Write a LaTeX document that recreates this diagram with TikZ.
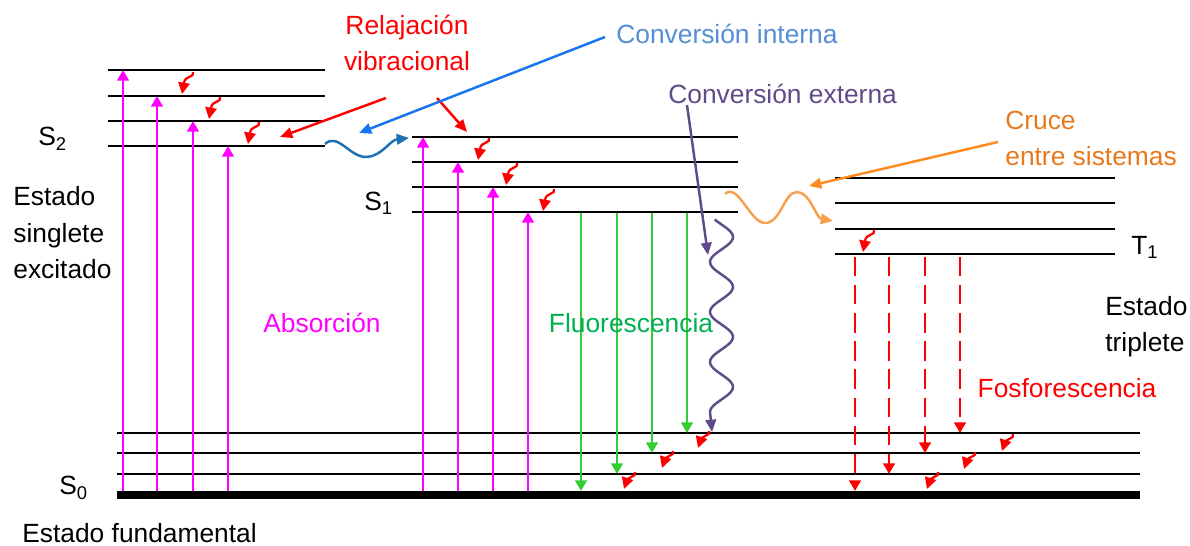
\documentclass[tikz,border=0pt]{standalone}
\usepackage{fontspec}
\setmainfont{Liberation Sans}
\usetikzlibrary{arrows.meta,calc}
\definecolor{absorb}{HTML}{FF00FF}
\definecolor{fluo}{HTML}{33CC33}
\definecolor{fluotext}{HTML}{00B050}
\definecolor{icblue}{HTML}{558ED5}
\definecolor{icarrow}{HTML}{1A73F0}
\definecolor{icwave}{HTML}{1F6FB5}
\definecolor{ecpurple}{HTML}{5E4B87}
\definecolor{iscarrow}{HTML}{FF8A1E}
\definecolor{iscwave}{HTML}{F9A050}
\definecolor{isctext}{HTML}{E8781C}
\tikzset{
  level/.style={line width=1.2pt},
  ground/.style={line width=4pt},
  absarrow/.style={absorb,line width=1.6pt,-{Triangle[length=6pt,width=6.5pt]}},
  fluoarrow/.style={fluo,line width=1.6pt,-{Triangle[length=6pt,width=6.5pt]}},
  phosarrow/.style={red,line width=1.6pt,dash pattern=on 11pt off 5pt,-{Triangle[length=6pt,width=6.5pt]}},
  vibarrow/.style={red,line width=1.3pt,-{Triangle[length=6.5pt,width=6.5pt]}},
  lblarrow/.style={line width=1.4pt,-{Triangle[length=7pt,width=6pt]}},
  lbl/.style={font=\fontsize{15}{21}\selectfont,inner sep=0pt},
}
% small wavy relaxation arrow, tip at (#2,#3)
\newcommand{\vib}[3][22]{%
  \draw[vibarrow,shift={(#2,#3)}] (11,-#1) .. controls (13,-#1+6) and (3,-#1+3) .. (2,-#1+11) -- (0,0);}

\begin{document}
\begin{tikzpicture}[x=0.02cm,y=-0.02cm]
\useasboundingbox (0,0) rectangle (1190,546);
% levels
\foreach \y in {70,96,121,146} \draw[level] (108,\y) -- (325,\y);
\foreach \y in {137,162,187,212} \draw[level] (412,\y) -- (738,\y);
\foreach \y in {178,203,229,254} \draw[level] (835,\y) -- (1115,\y);
\foreach \y in {433,453,474} \draw[level] (117,\y) -- (1140,\y);
\draw[ground] (117,495) -- (1140,495);

% absorption, fluorescence, phosphorescence
\foreach \x/\y in {123/70,157/96,193/121,228/146,423/137,458/162,493/187,528/212}
  \draw[absarrow] (\x,491) -- (\x,\y);
\foreach \x/\y in {581/491,617/474,652/453,687/433}
  \draw[fluoarrow] (\x,213) -- (\x,\y);
\foreach \x/\y in {855/491,889/474,925/453,960/433}
  \draw[phosarrow] (\x,257) -- (\x,\y);

% vibrational relaxation
\vib{182}{94} \vib{209}{119} \vib{248}{144}
\vib{478}{160} \vib{506}{185} \vib{543}{211}
\vib{863}{252}
\vib[17]{698}{448} \vib[17]{662}{468} \vib[17]{624}{489}
\vib[17]{1002}{451} \vib[17]{964}{469} \vib[17]{927}{489}

% labels
\node[lbl,anchor=base west] (s2) at (38,146) {S\textsubscript{2}};
\node[lbl,anchor=base west] (s1) at (364,211) {S\textsubscript{1}};
\node[lbl,anchor=base west] (t1) at (1131,255) {T\textsubscript{1}};
\node[lbl,anchor=base west] (s0) at (59,495) {S\textsubscript{0}};
\node[lbl,anchor=base west,align=left] (singlet) at (13,279) {Estado\\singlete\\excitado};
\node[lbl,anchor=base west] (fund) at (22,543) {Estado fundamental};
\node[lbl,anchor=base west,align=left] (triplet) at (1105,352) {Estado\\triplete};
\node[lbl,anchor=base,absorb] (abs) at (322,333) {Absorción};
\node[lbl,anchor=base,fluotext] (fl) at (631,333) {Fluorescencia};
\node[lbl,anchor=base,red] (fos) at (1067,398) {Fosforescencia};
\node[lbl,anchor=base,red,align=center] (relax) at (407,71) {Relajación\\vibracional};
\node[lbl,anchor=base west,icblue] (ic) at (616,44) {Conversión interna};
\node[lbl,anchor=base west,ecpurple] (ec) at (668,104) {Conversión externa};
\node[lbl,anchor=base west,isctext,align=left] (isc) at (1005,166) {Cruce\\entre sistemas};

% label arrows
\coordinate (relaxa) at (386,98);
\coordinate (relaxb) at (437,98);
\coordinate (s2tgt) at (280,137);
\coordinate (s1tgt) at (467,132);
\coordinate (ica) at (605,37);
\coordinate (ictgt) at (359,133);
\coordinate (eca) at (687,105);
\coordinate (ectgt) at (708,255);
\coordinate (isca) at (998,142);
\coordinate (isctgt) at (809,186);
\draw[lblarrow,red] (relaxa) -- (s2tgt);
\draw[lblarrow,red] (relaxb) -- (s1tgt);
\draw[lblarrow,icarrow] (ica) -- (ictgt);
\draw[lblarrow,ecpurple] (eca) -- (ectgt);
\draw[lblarrow,iscarrow] (isca) -- (isctgt);

% waves
\draw[lblarrow,icwave] (325,144) .. controls (338,132) and (350,158) .. (367,157)
  .. controls (382,156) and (390,140) .. (409,138);
\draw[lblarrow,iscwave] (725,194) .. controls (738,182) and (750,223) .. (765,223)
  .. controls (781,223) and (784,192) .. (797,192)
  .. controls (810,192) and (816,218) .. (833,221);
\draw[lblarrow,ecpurple] plot[domain=-0.1:3.75,samples=90,smooth]
  ({721.5+11.5*sin(\x*360)},{224.5+\x*50}) -- (712,432);
\end{tikzpicture}
\end{document}
